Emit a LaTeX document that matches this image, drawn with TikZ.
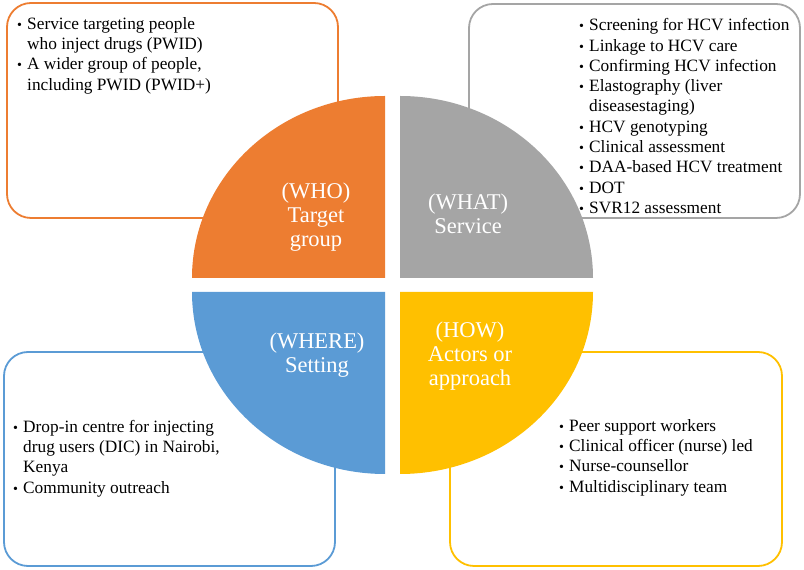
\documentclass[tikz,border=0pt]{standalone}
\usepackage{fontspec}
\setmainfont{Liberation Serif}
\definecolor{qorange}{HTML}{ED7D31}
\definecolor{qgray}{HTML}{A5A5A5}
\definecolor{qblue}{HTML}{5B9BD5}
\definecolor{qyellow}{HTML}{FFC000}
\newcommand{\bul}{\makebox[10pt][l]{\fontsize{14}{14}\selectfont•}}
\tikzset{
  infobox/.style={draw=#1, line width=1.8pt, fill=white, rounded corners=24pt},
  quad/.style={fill=#1, draw=none},
  bullettext/.style={anchor=north west, inner sep=0pt, font=\fontsize{17.3}{20.3}\selectfont, text=black},
  qlabel/.style={text=white, align=center, inner sep=0pt, font=\fontsize{22.5}{24}\selectfont}
}
\begin{document}
\begin{tikzpicture}[x=1pt,y=1pt]
\useasboundingbox (0,0) rectangle (804,570);
% boxes
\draw[infobox=qorange] (7,352) rectangle (338,567);
\draw[infobox=qgray] (469,352) rectangle (800,566);
\draw[infobox=qblue] (4,4) rectangle (335,218);
\draw[infobox=qyellow] (450,4) rectangle (782,218);
% quadrants
\fill[quad=qorange] (385,292) -- (192,292) arc[start angle=180,end angle=90,x radius=193,y radius=182] -- cycle;
\fill[quad=qgray] (400,292) -- (400,474) arc[start angle=90,end angle=0,x radius=193,y radius=182] -- cycle;
\fill[quad=qblue] (385,278) -- (385,96) arc[start angle=270,end angle=180,x radius=193,y radius=182] -- cycle;
\fill[quad=qyellow] (400,278) -- (593,278) arc[start angle=0,end angle=-90,x radius=193,y radius=182] -- cycle;
% quadrant labels
\node[qlabel] (who) at (316,353) {(WHO)\\Target\\group};
\node[qlabel] (what) at (468,356) {(WHAT)\\Service};
\node[qlabel] (where) at (317,214.5) {(WHERE)\\Setting};
\node[qlabel] (how) at (470,213.5) {(HOW)\\Actors or\\approach};
% bullet texts
\node[bullettext] (whotext) at (17,555.2) {\begin{tabular}{@{}l@{}l@{}}
\bul & Service targeting people\\
 & who inject drugs (PWID)\\
\bul & A wider group of people,\\
 & including PWID (PWID+)
\end{tabular}};
\node[bullettext] (whattext) at (579,553.7) {\begin{tabular}{@{}l@{}l@{}}
\bul & Screening for HCV infection\\
\bul & Linkage to HCV care\\
\bul & Confirming HCV infection\\
\bul & Elastography (liver\\
 & diseasestaging)\\
\bul & HCV genotyping\\
\bul & Clinical assessment\\
\bul & DAA-based HCV treatment\\
\bul & DOT\\
\bul & SVR12 assessment
\end{tabular}};
\node[bullettext] (wheretext) at (13,152.2) {\begin{tabular}{@{}l@{}l@{}}
\bul & Drop-in centre for injecting\\
 & drug users (DIC) in Nairobi,\\
 & Kenya\\
\bul & Community outreach
\end{tabular}};
\node[bullettext] (howtext) at (559,153.2) {\begin{tabular}{@{}l@{}l@{}}
\bul & Peer support workers\\
\bul & Clinical officer (nurse) led\\
\bul & Nurse-counsellor\\
\bul & Multidisciplinary team
\end{tabular}};
\end{tikzpicture}
\end{document}
